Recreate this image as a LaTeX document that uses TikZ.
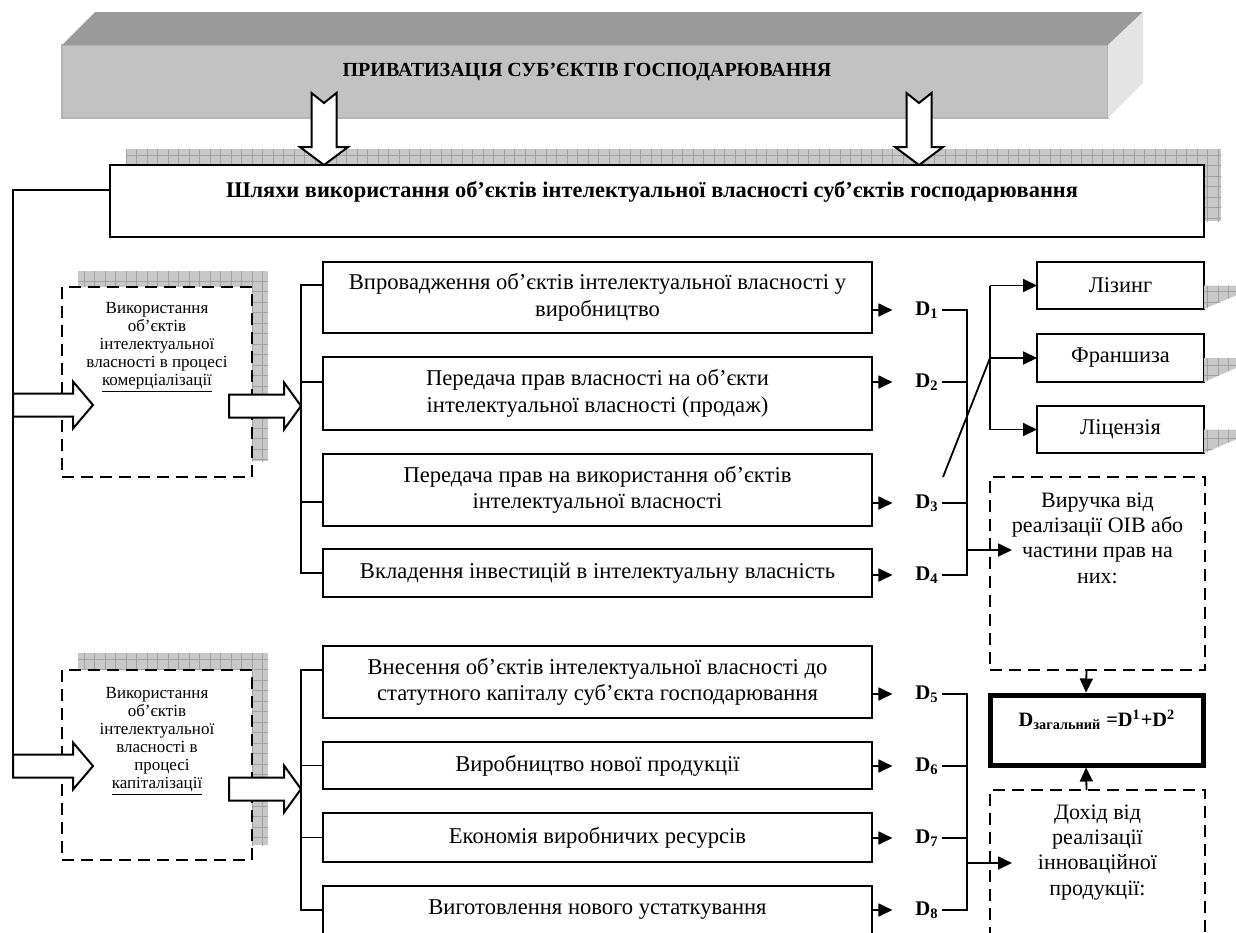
\documentclass[tikz,border=0pt]{standalone}
\usepackage{fontspec}
\setmainfont{Liberation Serif}
\usetikzlibrary{arrows.meta,positioning,calc,patterns.meta}
\definecolor{bantop}{HTML}{9A9A9A}
\definecolor{banfront}{HTML}{C2C2C2}
\definecolor{banedge}{HTML}{B4B4B4}
\definecolor{banside}{HTML}{E4E4E4}
\definecolor{shadefill}{HTML}{C8C8C8}
\definecolor{shadeline}{HTML}{A0A0A0}

\begin{document}
\begin{tikzpicture}[x=0.5pt, y=-0.5pt, line width=0.9pt,
  >={Triangle[length=7pt, width=6.5pt]},
  banner/.style={fill=banfront, draw=banedge, line width=0.6pt,
    minimum width=523pt, minimum height=36.5pt, inner sep=0pt, outer sep=0pt},
  titletxt/.style={font=\bfseries\fontsize{10}{12}\selectfont},
  waysbox/.style={draw, line width=1.2pt, fill=white, minimum width=547pt,
    minimum height=36pt, inner sep=0pt, outer sep=0pt},
  waystxt/.style={font=\bfseries\fontsize{11.2}{13}\selectfont},
  gridshade/.style={fill=shadefill, postaction={pattern={Hatch[distance=5.25pt,
    line width=0.4pt]}, pattern color=shadeline}},
  sidebox/.style={draw, line width=1pt, dash pattern=on 6pt off 3.5pt, fill=white,
    minimum width=95pt, minimum height=95pt, inner sep=0pt, outer sep=0pt},
  sidetxt/.style={font=\fontsize{8.5}{9}\selectfont, align=center, inner sep=0pt},
  mbox/.style={draw, line width=1pt, fill=white, minimum width=274.5pt,
    inner sep=0pt, outer sep=0pt, align=center,
    font=\fontsize{11.3}{13.2}\selectfont},
  dlab/.style={font=\bfseries\fontsize{10.4}{12}\selectfont, inner xsep=1pt},
  kindbox/.style={draw, line width=1pt, fill=white, minimum width=83.5pt,
    minimum height=23.5pt, inner sep=0pt, outer sep=0pt,
    font=\fontsize{11.2}{13}\selectfont},
  incbox/.style={draw, line width=1pt, dash pattern=on 6pt off 3.5pt,
    minimum width=107.5pt, minimum height=96.5pt, inner sep=0pt, outer sep=0pt},
  inctxt/.style={font=\fontsize{11}{12.6}\selectfont, align=center, inner sep=0pt},
  totbox/.style={draw, line width=2.5pt, minimum width=106.75pt,
    minimum height=35pt, inner sep=0pt, outer sep=1.25pt},
  tottxt/.style={font=\bfseries\fontsize{10.2}{12}\selectfont},
  blockarrow/.style={draw, fill=white, line width=1pt, line join=miter}]
\useasboundingbox (0,0) rectangle (1236,932);
\clip (0,0) rectangle (1236,932);

% privatisation banner
\node[banner] (banner) at (585,81.5) {};
\fill[bantop] (banner.north west) -- ++(33,-33) -- ++(1048,0)
  -- (banner.north east) -- cycle;
\fill[banside] (banner.north east) -- ++(35,-33) -- ++(0,71)
  -- (banner.south east) -- cycle;
\node[titletxt] (title) at (587,72) {ПРИВАТИЗАЦІЯ СУБ’ЄКТІВ ГОСПОДАРЮВАННЯ};

% ways of use
\path[gridshade] (126,149) rectangle (1221,221);
\node[waysbox] (ways) at (657,201) {};
\node[waystxt] (waystitle) at (652,192)
  {Шляхи використання об’єктів інтелектуальної власності суб’єктів господарювання};
\coordinate (dn1) at (324,165);
\coordinate (dn2) at (919,165);
\foreach \t in {dn1,dn2}
  \draw[blockarrow] (\t) -- ++(-24,-18) -- ++(11.5,0) -- ++(0,-54)
    -- ++(12.5,10) -- ++(12.5,-10) -- ++(0,54) -- ++(11.5,0) -- cycle;

% commercialisation / capitalisation
\path[gridshade] (78,271) rectangle (268,461);
\path[gridshade] (78,653) rectangle (268,845);
\node[sidebox] (com) at (157,382) {};
\node[sidebox] (cap) at (157,765) {};
\node[sidetxt, below=7pt of com.north] (comtxt) {Використання\\ об’єктів\\
  інтелектуальної\\ власності в процесі\\ \underline{комерціалізації}};
\node[sidetxt, below=8pt of cap.north] (captxt) {Використання\\ об’єктів\\
  інтелектуальної\\ власності в\\ \hspace*{5pt}процесі\\ \underline{капіталізації}};

% ways, first group
\node[mbox, minimum height=35.5pt] (m1) at (597.5,297.5)
  {Впровадження об’єктів інтелектуальної власності у\\ виробництво};
\node[mbox, minimum height=36.5pt, below=12pt of m1] (m2)
  {Передача прав власності на об’єкти\\ інтелектуальної власності (продаж)};
\node[mbox, minimum height=36pt, below=12pt of m2] (m3)
  {Передача прав на використання об’єктів\\ інтелектуальної власності};
\node[mbox, minimum height=24pt, below=11.5pt of m3] (m4)
  {Вкладення інвестицій в інтелектуальну власність};
% ways, second group
\node[mbox, minimum height=36pt, below=24.5pt of m4] (m5)
  {Внесення об’єктів інтелектуальної власності до\\ статутного капіталу суб’єкта господарювання};
\node[mbox, minimum height=23.5pt, below=12pt of m5] (m6) {Виробництво нової продукції};
\node[mbox, minimum height=24.5pt, below=12pt of m6] (m7) {Економія виробничих ресурсів};
\node[mbox, minimum height=24pt, below=12pt of m7] (m8) {Виготовлення нового устаткування};

\coordinate (k4) at ($(m4.west)+(-11pt,0)$);
\draw ([yshift=6.25pt]m1.west) -| (k4) -- (m4.west);
\coordinate (b2) at ([yshift=5.75pt]m2.west);
\coordinate (b3) at ([yshift=-6pt]m3.west);
\draw (b2) -- (b2 -| k4);
\draw (b3) -- (b3 -| k4);
\coordinate (k8) at ($(m8.west)+(-11pt,0)$);
\draw ([yshift=6pt]m5.west) -| (k8) -- (m8.west);
\draw (m6.west) -- (m6.west -| k8);
\draw (m7.west) -- (m7.west -| k8);

% D labels
\foreach \i/\y in {1/310,2/382,3/503,4/575,5/694,6/766,7/838,8/910}
  \node[dlab] (d\i) at (927,\y) {D\textsubscript{\i}};
\foreach \i in {1,...,8}
  \draw[->, shorten >=10pt] (m\i.east |- d\i) -- (d\i.west);
\coordinate (bt) at (967,310);
\draw (d1) -- (bt) -- (bt |- d4) -- (d4);
\draw (d2) -- (d2 -| bt);
\draw (d3) -- (d3 -| bt);
\coordinate (bt2) at (967,694);
\draw (d5) -- (bt2) -- (bt2 |- d8) -- (d8);
\draw (d6) -- (d6 -| bt2);
\draw (d7) -- (d7 -| bt2);

% leasing, franchise, licence
\node[kindbox] (liz) at (1120.5,285.5) {Лізинг};
\node[kindbox, minimum height=24pt, below=12.5pt of liz] (fr) {Франшиза};
\node[kindbox, below=12pt of fr] (lic) {Ліцензія};
\foreach \b in {liz,fr,lic}
  \path[gridshade] (\b.east) -- ++(32,0) -- ++(0,10) -- (\b.south east) -- cycle;
\coordinate (lz) at ($(liz.west)+(-23.5pt,0)$);
\coordinate (slant) at (943,477);
\draw[->] (lz) -- (liz);
\draw[->] (lz |- fr) -- (fr);
\draw[->] (lz) -- (lz |- lic) -- (lic);
\draw (slant) -- (lz |- fr);

% income
\node[incbox] (vyr) at (1097.5,573.5) {};
\node[inctxt, below=7.5pt of vyr.north] (vyrtxt)
  {Виручка від\\ реалізації ОІВ або\\ частини прав на\\ них:};
\node[incbox] (doh) at (1097.5,886.5) {};
\node[inctxt, below=7pt of doh.north] (dohtxt)
  {Дохід від\\ реалізації\\ інноваційної\\ продукції:};
\node[totbox] (tot) at (1097,730) {};
\node[tottxt] (tottitle) at (1097,720)
  {D\textsubscript{загальний} =D\textsuperscript{1}+D\textsuperscript{2}};
\coordinate (jv) at (967,550);
\draw[->] (jv) -- ($(jv -| vyr.west)+(11pt,0)$);
\coordinate (jd) at (967,863);
\draw[->] (jd) -- ($(jd -| doh.west)+(11pt,0)$);
\draw[->] ([xshift=-5.5pt]vyr.south) -- ([xshift=-5.5pt]tot.north);
\draw[->] ([xshift=-5.5pt]doh.north) -- ([xshift=-5.5pt]tot.south);

% rail and block arrows
\coordinate (la1) at (93,405);
\coordinate (la2) at (93,766);
\coordinate (rail) at (13,777.5);
\draw ([yshift=5.5pt]ways.west) -| (rail);
\foreach \t in {la1,la2}
  \draw[blockarrow] (\t) -- ++(-20,-23.5) -- ++(0,12) -- ++(-60,0)
    -- ++(0,23) -- ++(60,0) -- ++(0,12) -- cycle;
\coordinate (ra1) at (301,406);
\coordinate (ra2) at (301,789);
\foreach \t in {ra1,ra2}
  \draw[blockarrow] (\t) -- ++(-17,-23.5) -- ++(0,12) -- ++(-55,0)
    -- ++(0,23) -- ++(55,0) -- ++(0,12) -- cycle;
\end{tikzpicture}
\end{document}
